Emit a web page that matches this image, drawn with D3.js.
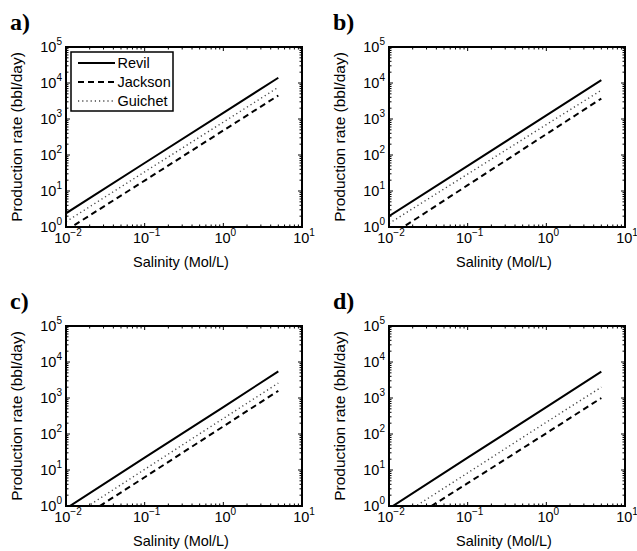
<!DOCTYPE html>
<html><head><meta charset="utf-8">
<script src="https://cdn.jsdelivr.net/npm/d3@7"></script>
<style>body{margin:0;background:#fff}svg{display:block}</style>
</head><body>
<svg id="chart" width="637" height="551"></svg>
<script>
// ---- data ----
const salinity = [0.01, 0.1, 1, 5];
const revilA   = [2.4, 60, 1480, 14000];
const jacksonA = [0.8, 19.5, 480, 4500];
const guichetA = [1.4, 34, 820, 7600];
const revilB   = [2.0, 50, 1260, 12000];
const jacksonB = [0.55, 14.5, 380, 3700];
const guichetB = [1.25, 29.5, 700, 6300];
const revilC   = [0.85, 22, 560, 5500];
const jacksonC = [0.25, 6.3, 163, 1580];
const guichetC = [0.4, 10.4, 270, 2600];
const revilD   = [0.85, 22, 560, 5400];
const jacksonD = [0.18, 4.3, 105, 1000];
const guichetD = [0.33, 8.3, 213, 2000];
const seriesNames = ["Revil", "Jackson", "Guichet"];
const panelLabels = ["a)", "b)", "c)", "d)"];
const xTickExps = [-2, -1, 0, 1];
const yTickExps = [0, 1, 2, 3, 4, 5];
const xTitle = "Salinity (Mol/L)";
const yTitle = "Production rate (bbl/day)";

const panelsData = [
  [revilA, jacksonA, guichetA],
  [revilB, jacksonB, guichetB],
  [revilC, jacksonC, guichetC],
  [revilD, jacksonD, guichetD]
];

// ---- layout ----
const origins = [[66, 47], [389, 47], [66, 326], [389, 326]];
const W = 236, H = 180;
const FONT = "'Liberation Sans', Arial, Helvetica, sans-serif";
const styles = [
  {w: 2, dash: null, color: "#000"},
  {w: 2, dash: "6,4", color: "#000"},
  {w: 1.4, dash: "1.2,3", color: "#444"}
];
const fmtExp = e => (e < 0 ? "\u2212" + Math.abs(e) : String(e));

const svg = d3.select("#chart");

panelsData.forEach((series, pi) => {
  const [ox, oy] = origins[pi];
  const x = d3.scaleLog().domain([1e-2, 1e1]).range([0, W]);
  const y = d3.scaleLog().domain([1e0, 1e5]).range([H, 0]);
  const g = svg.append("g").attr("transform", `translate(${ox},${oy})`);

  g.append("clipPath").attr("id", "clip" + pi)
    .append("rect").attr("x", 0).attr("y", 0).attr("width", W).attr("height", H);

  // data lines
  const line = d3.line().x((d, i) => x(salinity[i])).y(d => y(d));
  series.forEach((vals, si) => {
    const s = styles[si];
    g.append("path").datum(vals)
      .attr("clip-path", `url(#clip${pi})`)
      .attr("d", line)
      .attr("fill", "none")
      .attr("stroke", s.color)
      .attr("stroke-width", s.w)
      .attr("stroke-dasharray", s.dash);
  });

  // ticks (major + minor), inward on all four sides
  const xMajor = xTickExps.map(e => Math.pow(10, e));
  const yMajor = yTickExps.map(e => Math.pow(10, e));
  const xMinor = [], yMinor = [];
  for (let e = -2; e < 1; e++) for (let m = 2; m <= 9; m++) xMinor.push(m * Math.pow(10, e));
  for (let e = 0; e < 5; e++) for (let m = 2; m <= 9; m++) yMinor.push(m * Math.pow(10, e));
  const tk = g.append("g").attr("stroke", "#000").attr("stroke-width", 1);
  xMajor.forEach(v => {
    tk.append("line").attr("x1", x(v)).attr("x2", x(v)).attr("y1", H).attr("y2", H - 4);
    tk.append("line").attr("x1", x(v)).attr("x2", x(v)).attr("y1", 0).attr("y2", 4);
  });
  xMinor.forEach(v => {
    tk.append("line").attr("x1", x(v)).attr("x2", x(v)).attr("y1", H).attr("y2", H - 2.5);
    tk.append("line").attr("x1", x(v)).attr("x2", x(v)).attr("y1", 0).attr("y2", 2.5);
  });
  yMajor.forEach(v => {
    tk.append("line").attr("y1", y(v)).attr("y2", y(v)).attr("x1", 0).attr("x2", 4);
    tk.append("line").attr("y1", y(v)).attr("y2", y(v)).attr("x1", W).attr("x2", W - 4);
  });
  yMinor.forEach(v => {
    tk.append("line").attr("y1", y(v)).attr("y2", y(v)).attr("x1", 0).attr("x2", 2.5);
    tk.append("line").attr("y1", y(v)).attr("y2", y(v)).attr("x1", W).attr("x2", W - 2.5);
  });

  // frame
  g.append("rect").attr("x", 0).attr("y", 0).attr("width", W).attr("height", H)
    .attr("fill", "none").attr("stroke", "#000").attr("stroke-width", 2);

  // x tick labels
  xTickExps.forEach(e => {
    const t = g.append("text")
      .attr("x", x(Math.pow(10, e)) + 2).attr("y", H + 16)
      .attr("text-anchor", "middle")
      .attr("font-family", FONT).attr("font-size", 14.5).attr("fill", "#000");
    t.append("tspan").text("10");
    t.append("tspan").attr("dy", -7).attr("font-size", 10).text(fmtExp(e));
  });
  // y tick labels
  yTickExps.forEach(e => {
    const t = g.append("text")
      .attr("x", -4).attr("y", y(Math.pow(10, e)) + 5)
      .attr("text-anchor", "end")
      .attr("font-family", FONT).attr("font-size", 14.5).attr("fill", "#000");
    t.append("tspan").text("10");
    t.append("tspan").attr("dy", -7).attr("font-size", 10).text(fmtExp(e));
  });

  // axis titles
  g.append("text").attr("x", W / 2 - 3).attr("y", H + 40)
    .attr("text-anchor", "middle").attr("font-family", FONT).attr("font-size", 14.5)
    .text(xTitle);
  g.append("text")
    .attr("transform", `translate(${-44},${H / 2}) rotate(-90)`)
    .attr("text-anchor", "middle").attr("font-family", FONT).attr("font-size", 15.5)
    .text(yTitle);

  // panel label
  svg.append("text").attr("x", ox - 56).attr("y", oy - 17)
    .attr("font-family", "'Liberation Serif', 'Times New Roman', serif")
    .attr("font-weight", "bold").attr("font-size", 24)
    .text(panelLabels[pi]);

  // legend (panel a only)
  if (pi === 0) {
    const lg = g.append("g").attr("transform", "translate(5,5)");
    lg.append("rect").attr("x", 0).attr("y", 0).attr("width", 102).attr("height", 59)
      .attr("fill", "#fff").attr("stroke", "#000").attr("stroke-width", 1.5);
    seriesNames.forEach((name, si) => {
      const s = styles[si];
      const yy = 11 + si * 19;
      lg.append("line").attr("x1", 7).attr("x2", 44).attr("y1", yy).attr("y2", yy)
        .attr("stroke", s.color).attr("stroke-width", s.w).attr("stroke-dasharray", s.dash);
      lg.append("text").attr("x", 46.5).attr("y", yy + 5)
        .attr("font-family", FONT).attr("font-size", 14.5).text(name);
    });
  }
});
</script>
</body></html>
